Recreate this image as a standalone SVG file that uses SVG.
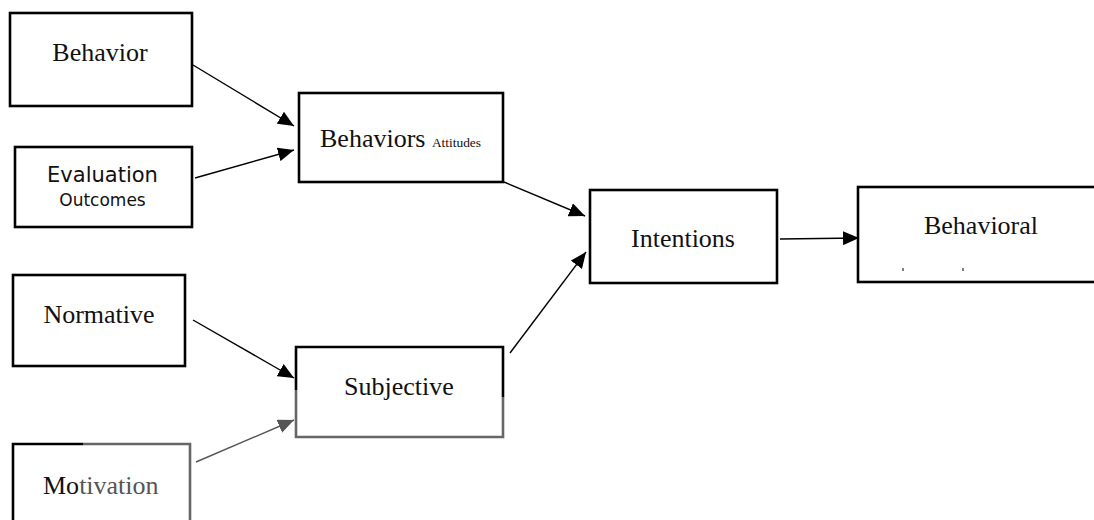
<svg xmlns="http://www.w3.org/2000/svg" width="1094" height="520" viewBox="0 0 1094 520">
<style>
.box{fill:#fff;stroke:#000;stroke-width:2.6}
.t{font-family:"Liberation Serif","Times New Roman",serif;font-size:26px;fill:#111}
.s{font-family:"DejaVu Sans",Verdana,sans-serif;fill:#111}
.c{stroke:#000;stroke-width:1.4;fill:none}
.g{stroke:#555}
</style>
<defs>
<marker id="ah" viewBox="0 0 16 14" refX="16" refY="7" markerWidth="16" markerHeight="14" markerUnits="userSpaceOnUse" orient="auto">
<path d="M0,0 L16,7 L0,14 Z" fill="#000"/>
</marker>
<marker id="ahg" viewBox="0 0 16 14" refX="16" refY="7" markerWidth="16" markerHeight="14" markerUnits="userSpaceOnUse" orient="auto">
<path d="M0,0 L16,7 L0,14 Z" fill="#555"/>
</marker>
</defs>
<rect width="1094" height="520" fill="#fff"/>
<g id="connectors">
<line class="c" x1="193" y1="65" x2="294" y2="126" marker-end="url(#ah)"/>
<line class="c" x1="195" y1="178" x2="294" y2="150" marker-end="url(#ah)"/>
<line class="c" x1="504" y1="182" x2="585" y2="216" marker-end="url(#ah)"/>
<line class="c" x1="510" y1="353" x2="586" y2="252" marker-end="url(#ah)"/>
<line class="c" x1="780" y1="239" x2="859" y2="238" marker-end="url(#ah)"/>
<line class="c" x1="193" y1="320" x2="294" y2="378" marker-end="url(#ah)"/>
<line class="c g" x1="196" y1="462" x2="294" y2="420" marker-end="url(#ahg)"/>
</g>
<g id="behavior">
<rect class="box" x="10" y="13" width="182" height="93"/>
<text class="t" x="100" y="61" text-anchor="middle">Behavior</text>
</g>
<g id="evaluation">
<rect class="box" x="15" y="147" width="177" height="80"/>
<text class="s" x="102.5" y="182" font-size="21" text-anchor="middle">Evaluation</text>
<text class="s" x="102.5" y="206" font-size="17" text-anchor="middle">Outcomes</text>
</g>
<g id="attitudes">
<rect class="box" x="299" y="93" width="204" height="89"/>
<text class="t" x="320" y="147">Behaviors <tspan font-size="13.4">Attitudes</tspan></text>
</g>
<g id="intentions">
<rect class="box" x="590" y="190" width="187" height="93"/>
<text class="t" x="683" y="247" text-anchor="middle">Intentions</text>
</g>
<g id="behavioral">
<rect class="box" x="858" y="187" width="250" height="95"/>
<text class="t" x="981" y="234" text-anchor="middle">Behavioral</text>
<line x1="903" y1="268" x2="903" y2="271" stroke="#000" stroke-width="1"/>
<line x1="963" y1="268" x2="963" y2="271" stroke="#000" stroke-width="1"/>
</g>
<g id="normative">
<rect class="box" x="13" y="275" width="172" height="91"/>
<text class="t" x="99" y="323" text-anchor="middle">Normative</text>
</g>
<g id="subjective">
<rect x="296" y="347" width="207" height="90" fill="#fff"/>
<path d="M296,390 L296,347 L503,347 L503,397" fill="none" stroke="#000" stroke-width="2.6"/>
<path d="M296,390 L296,437 L503,437 L503,397" fill="none" stroke="#666" stroke-width="2.6"/>
<text class="t" x="399" y="395" text-anchor="middle" fill="#333">Subjective</text>
</g>
<g id="motivation">
<rect x="13" y="444" width="177" height="90" fill="#fff"/>
<path d="M13,530 L13,444 L83,444" fill="none" stroke="#000" stroke-width="2.6"/>
<path d="M83,444 L190,444 L190,530" fill="none" stroke="#666" stroke-width="2.6"/>
<text class="t" x="43" y="494">Mo<tspan fill="#555">tivation</tspan></text>
</g>
</svg>
